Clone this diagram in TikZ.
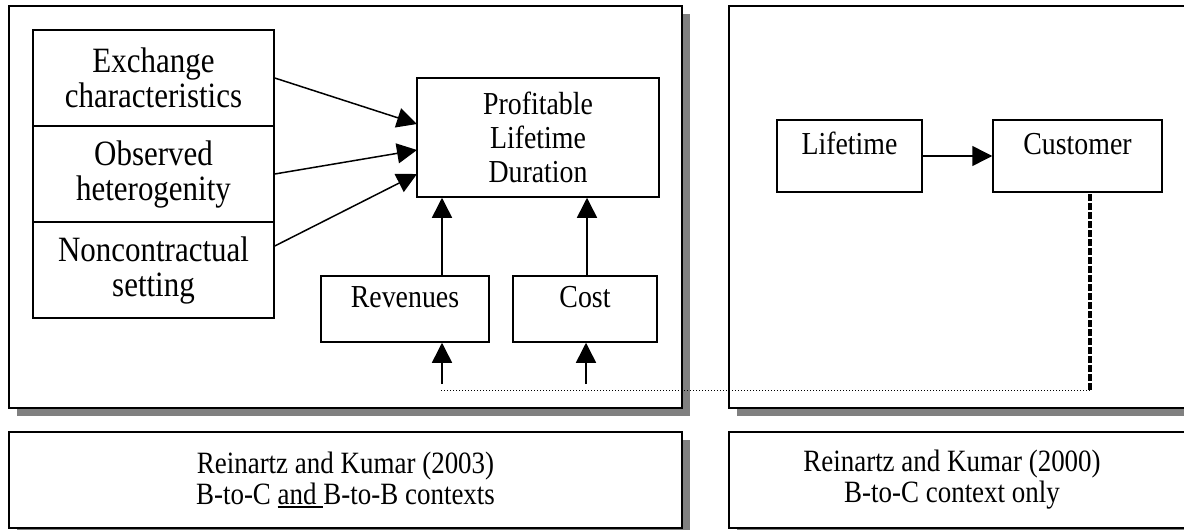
\documentclass[tikz,border=0pt]{standalone}
\usepackage{fontspec}
\setmainfont{Liberation Serif}
\newfontfamily\tallserif[FakeStretch=0.87]{Liberation Serif}
\usetikzlibrary{arrows.meta,positioning,shadows}

\newcommand{\ulword}[1]{\setbox0\hbox{#1}\rlap{\rule[-4pt]{\wd0}{2.5pt}}\box0}

\tikzset{
  pane/.style={draw,line width=2pt,fill=white,inner sep=0pt,
    drop shadow={shadow xshift=8pt,shadow yshift=-8pt,fill=black!50,opacity=1}},
  cell/.style={draw,line width=1.5pt,fill=white,inner sep=0pt,align=center},
  topcell/.style={cell,text height=22pt,text depth=26pt,font=\tallserif\fontsize{32}{34}\selectfont},
  link/.style={line width=1.5pt,-{Triangle[length=20pt,width=20pt]}},
}

\begin{document}
\begin{tikzpicture}[x=1pt,y=-1pt]
  \useasboundingbox (0,0) rectangle (1184,530);
  \fill[white] (0,0) rectangle (1184,530);
  \clip (0,0) rectangle (1184,530);
  % the two panes and their captions
  \node[pane,minimum width=673pt,minimum height=402pt] (leftpane) at (345.5,207) {};
  \node[pane,minimum width=471pt,minimum height=402pt] (rightpane) at (964.5,207) {};
  \node[pane,minimum width=673pt,minimum height=96pt,align=center,
    font=\tallserif\fontsize{31}{31}\selectfont] (leftnote) at (345.5,480)
    {Reinartz and Kumar (2003)\\B-to-C \ulword{and }B-to-B contexts};
  \node[pane,minimum width=471pt,minimum height=96pt] (rightnote) at (964.5,480) {};
  \node[align=center,font=\tallserif\fontsize{31}{31}\selectfont] (rightnotetext) at (952,480)
    {Reinartz and Kumar (2000)\\B-to-C context only};
  % stack of drivers
  \node[cell,minimum width=241pt,minimum height=96pt,font=\tallserif\fontsize{35.6}{35}\selectfont]
    (exch) at (153.5,78) {Exchange\\characteristics};
  \node[cell,minimum width=241pt,minimum height=96pt,font=\tallserif\fontsize{35.6}{35}\selectfont]
    (obs) at (153.5,174) {Observed\\heterogenity};
  \node[cell,minimum width=241pt,minimum height=96pt,font=\tallserif\fontsize{35.6}{35}\selectfont]
    (nonc) at (153.5,270) {Noncontractual\\setting};
  % outcome box
  \node[cell,minimum width=242pt,minimum height=119pt,font=\tallserif\fontsize{32}{34}\selectfont]
    (prof) at (538,137.5) {Profitable\\Lifetime\\Duration};
  \node[topcell,minimum width=168pt,minimum height=66pt] (rev) at (405,309) {Revenues};
  \node[topcell,minimum width=144pt,minimum height=66pt] (cost) at (585,309) {Cost};
  % right pane boxes
  \node[topcell,minimum width=145pt,minimum height=72pt] (life) at (849.5,156) {Lifetime};
  \node[topcell,minimum width=169pt,minimum height=72pt] (cust) at (1077.5,156) {Customer};
  % arrow ends
  \coordinate (in1) at (417,124);
  \coordinate (in2) at (417,150);
  \coordinate (in3) at (417,174);
  \coordinate (revtop) at (442,276);
  \coordinate (costtop) at (587,276);
  \coordinate (revfoot) at (442,384);
  \coordinate (costfoot) at (586,384);
  \coordinate (dotstart) at (441,390);
  \coordinate (bend) at (1090,390);
  % arrows into the outcome
  \draw[link] (exch.east) -- (in1);
  \draw[link] (obs.east) -- (in2);
  \draw[link] (nonc.east |- 0,246) -- (in3);
  \draw[link] (revtop) -- (revtop |- prof.south);
  \draw[link] (costtop) -- (costtop |- prof.south);
  \draw[link] (revfoot) -- (revfoot |- rev.south);
  \draw[link] (costfoot) -- (costfoot |- cost.south);
  \draw[link] (life.east) -- (cust.west);
  % link between the panes
  \draw[dotted,line width=1pt] (dotstart) -- (bend);
  \draw[line width=4pt,dash pattern=on 7pt off 2pt] (bend) -- (bend |- cust.south);
\end{tikzpicture}
\end{document}
